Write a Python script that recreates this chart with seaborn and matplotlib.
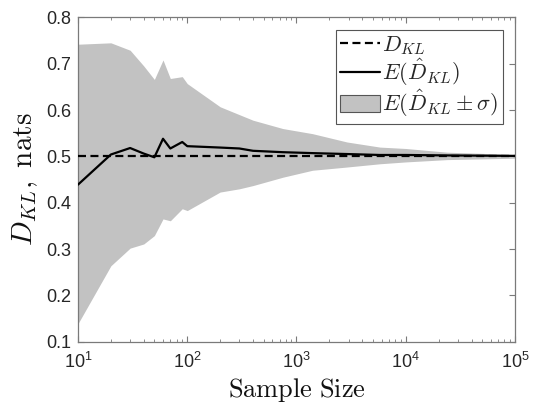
import numpy as np
import pandas as pd
import matplotlib
matplotlib.use("Agg")
import matplotlib.pyplot as plt
import seaborn as sns
from matplotlib.lines import Line2D
from matplotlib.patches import Patch

sample_sizes = [10, 20, 30, 40, 50, 60, 70, 90, 100, 200, 300, 400, 750,
                1400, 2900, 5800, 10000, 24000, 100000]
mean_vals = [0.439, 0.504, 0.518, 0.506, 0.498, 0.538, 0.517, 0.531, 0.522,
             0.519, 0.517, 0.512, 0.509, 0.507, 0.505, 0.503, 0.503, 0.502, 0.501]
upper_vals = [0.742, 0.745, 0.729, 0.695, 0.666, 0.708, 0.668, 0.672, 0.657,
              0.607, 0.590, 0.578, 0.560, 0.549, 0.531, 0.520, 0.517, 0.509, 0.504]
lower_vals = [0.139, 0.264, 0.302, 0.311, 0.329, 0.365, 0.361, 0.387, 0.383,
              0.423, 0.430, 0.437, 0.455, 0.470, 0.477, 0.484, 0.488, 0.493, 0.496]
true_kl = 0.5

sns.set_style("ticks")
plt.rcParams["font.family"] = ["Liberation Sans", "DejaVu Sans"]
plt.rcParams["mathtext.fontset"] = "custom"
plt.rcParams["mathtext.rm"] = "Liberation Sans"
plt.rcParams["mathtext.it"] = "Liberation Sans:italic"

df = pd.DataFrame({"n": sample_sizes, "mean": mean_vals,
                   "upper": upper_vals, "lower": lower_vals})
df["true"] = true_kl

fig = plt.figure(figsize=(5.35, 4.03), dpi=100)
ax = fig.add_axes([0.1458, 0.152, 0.8168, 0.805])

fill_color = "#c2c2c2"
dash = (0, (3.6, 2.0))
ax.fill_between(df["n"], df["lower"], df["upper"], color=fill_color, lw=0, zorder=1)
sns.lineplot(data=df, x="n", y="mean", ax=ax, color="black", lw=1.6, zorder=3)
sns.lineplot(x=[10, 100000], y=[true_kl, true_kl], ax=ax, color="black", lw=1.6,
             linestyle=dash, zorder=4)

ax.set_xscale("log")
ax.set_xlim(10, 100000)
ax.set_ylim(0.1, 0.8)
ax.set_yticks(np.arange(0.1, 0.81, 0.1))
ax.set_yticklabels([f"{v:.1f}" for v in np.arange(0.1, 0.81, 0.1)])

axis_gray = "#7a7a7a"
for s in ax.spines.values():
    s.set_color(axis_gray)
    s.set_linewidth(0.9)
ax.tick_params(which="both", direction="in", top=True, right=True,
               color=axis_gray, labelcolor="#262626", labelsize=13)
ax.tick_params(which="major", length=4)
ax.tick_params(axis="y", which="major", pad=5)
ax.tick_params(axis="x", which="major", pad=7)
ax.tick_params(which="minor", length=2.2)

ax.set_xlabel(r"$\mathrm{Sample\ Size}$", fontsize=19, labelpad=3,
              math_fontfamily="cm", color="#111111")
ax.set_ylabel(r"$D_{KL},\ \mathrm{nats}$", fontsize=21, labelpad=4,
              math_fontfamily="cm", color="#111111")

handles = [Line2D([], [], color="black", lw=1.6, linestyle=dash),
           Line2D([], [], color="black", lw=1.6),
           Patch(facecolor=fill_color, edgecolor="#555555", lw=0.8)]
labels = [r"$D_{KL}$", r"$E(\hat{D}_{KL})$", r"$E(\hat{D}_{KL}\pm\sigma)$"]
leg = ax.legend(handles, labels, loc="upper right", fontsize=16,
                frameon=True, fancybox=False, framealpha=1,
                edgecolor="#555555", handlelength=1.8, handleheight=0.85,
                handletextpad=0.1, labelspacing=0.0, borderpad=0.2,
                borderaxespad=0.55)
leg.get_frame().set_linewidth(0.8)
for t in leg.get_texts():
    t.set_math_fontfamily("cm")

fig.savefig("out.png", dpi=100)
